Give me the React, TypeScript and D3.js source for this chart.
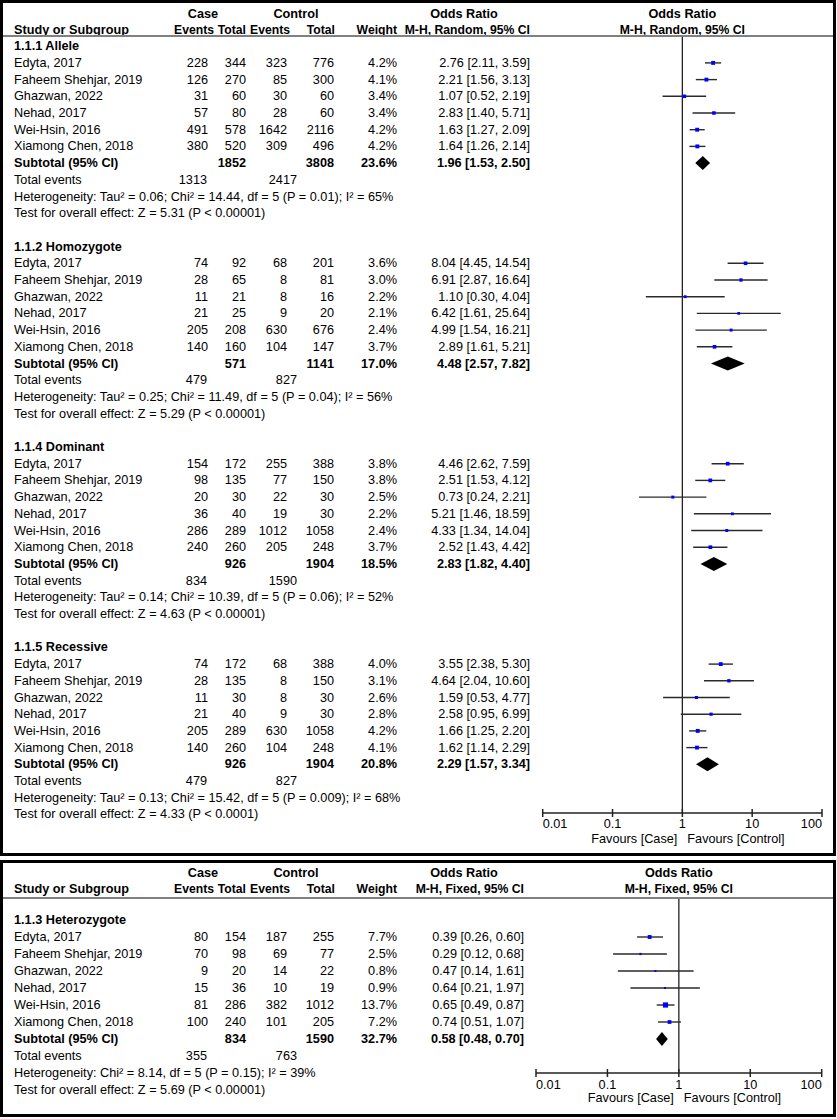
import React from "react";
import * as d3 from "d3";

// ---------- data ----------
const studyNames = [
  "Edyta, 2017",
  "Faheem Shehjar, 2019",
  "Ghazwan, 2022",
  "Nehad, 2017",
  "Wei-Hsin, 2016",
  "Xiamong Chen, 2018",
];

// [caseEvents, caseTotal, ctrlEvents, ctrlTotal, weight%, OR, lo, hi]
const alleleRows = [
  [228, 344, 323, 776, 4.2, 2.76, 2.11, 3.59],
  [126, 270, 85, 300, 4.1, 2.21, 1.56, 3.13],
  [31, 60, 30, 60, 3.4, 1.07, 0.52, 2.19],
  [57, 80, 28, 60, 3.4, 2.83, 1.4, 5.71],
  [491, 578, 1642, 2116, 4.2, 1.63, 1.27, 2.09],
  [380, 520, 309, 496, 4.2, 1.64, 1.26, 2.14],
];
const homozygoteRows = [
  [74, 92, 68, 201, 3.6, 8.04, 4.45, 14.54],
  [28, 65, 8, 81, 3.0, 6.91, 2.87, 16.64],
  [11, 21, 8, 16, 2.2, 1.1, 0.3, 4.04],
  [21, 25, 9, 20, 2.1, 6.42, 1.61, 25.64],
  [205, 208, 630, 676, 2.4, 4.99, 1.54, 16.21],
  [140, 160, 104, 147, 3.7, 2.89, 1.61, 5.21],
];
const dominantRows = [
  [154, 172, 255, 388, 3.8, 4.46, 2.62, 7.59],
  [98, 135, 77, 150, 3.8, 2.51, 1.53, 4.12],
  [20, 30, 22, 30, 2.5, 0.73, 0.24, 2.21],
  [36, 40, 19, 30, 2.2, 5.21, 1.46, 18.59],
  [286, 289, 1012, 1058, 2.4, 4.33, 1.34, 14.04],
  [240, 260, 205, 248, 3.7, 2.52, 1.43, 4.42],
];
const recessiveRows = [
  [74, 172, 68, 388, 4.0, 3.55, 2.38, 5.3],
  [28, 135, 8, 150, 3.1, 4.64, 2.04, 10.6],
  [11, 30, 8, 30, 2.6, 1.59, 0.53, 4.77],
  [21, 40, 9, 30, 2.8, 2.58, 0.95, 6.99],
  [205, 289, 630, 1058, 4.2, 1.66, 1.25, 2.2],
  [140, 260, 104, 248, 4.1, 1.62, 1.14, 2.29],
];
const heterozygoteRows = [
  [80, 154, 187, 255, 7.7, 0.39, 0.26, 0.6],
  [70, 98, 69, 77, 2.5, 0.29, 0.12, 0.68],
  [9, 20, 14, 22, 0.8, 0.47, 0.14, 1.61],
  [15, 36, 10, 19, 0.9, 0.64, 0.21, 1.97],
  [81, 286, 382, 1012, 13.7, 0.65, 0.49, 0.87],
  [100, 240, 101, 205, 7.2, 0.74, 0.51, 1.07],
];

// [caseTotal, ctrlTotal, weight%, OR, lo, hi]
const alleleSubtotal = [1852, 3808, 23.6, 1.96, 1.53, 2.5];
const homozygoteSubtotal = [571, 1141, 17.0, 4.48, 2.57, 7.82];
const dominantSubtotal = [926, 1904, 18.5, 2.83, 1.82, 4.4];
const recessiveSubtotal = [926, 1904, 20.8, 2.29, 1.57, 3.34];
const heterozygoteSubtotal = [834, 1590, 32.7, 0.58, 0.48, 0.7];

// [caseEvents, ctrlEvents]
const alleleTotalEvents = [1313, 2417];
const homozygoteTotalEvents = [479, 827];
const dominantTotalEvents = [834, 1590];
const recessiveTotalEvents = [479, 827];
const heterozygoteTotalEvents = [355, 763];

const groupTitles = ["1.1.1 Allele", "1.1.2 Homozygote", "1.1.4 Dominant", "1.1.5 Recessive"];
const heterogeneityTexts = [
  "Heterogeneity: Tau\u00b2 = 0.06; Chi\u00b2 = 14.44, df = 5 (P = 0.01); I\u00b2 = 65%",
  "Heterogeneity: Tau\u00b2 = 0.25; Chi\u00b2 = 11.49, df = 5 (P = 0.04); I\u00b2 = 56%",
  "Heterogeneity: Tau\u00b2 = 0.14; Chi\u00b2 = 10.39, df = 5 (P = 0.06); I\u00b2 = 52%",
  "Heterogeneity: Tau\u00b2 = 0.13; Chi\u00b2 = 15.42, df = 5 (P = 0.009); I\u00b2 = 68%",
];
const overallTexts = [
  "Test for overall effect: Z = 5.31 (P < 0.00001)",
  "Test for overall effect: Z = 5.29 (P < 0.00001)",
  "Test for overall effect: Z = 4.63 (P < 0.00001)",
  "Test for overall effect: Z = 4.33 (P < 0.0001)",
];
const heteroTitle = "1.1.3 Heterozygote";
const heteroHeterogeneity = "Heterogeneity: Chi\u00b2 = 8.14, df = 5 (P = 0.15); I\u00b2 = 39%";
const heteroOverall = "Test for overall effect: Z = 5.69 (P < 0.00001)";

const tickValues = [0.01, 0.1, 1, 10, 100];
const tickLabels = ["0.01", "0.1", "1", "10", "100"];

// ---------- rendering ----------
const FONT = "Arial, 'Liberation Sans', sans-serif";
const FS = 12.7;
const HFS = 12.2;

type Grp = {
  title: string;
  rows: number[][];
  subtotal: number[];
  totalEvents: number[];
  het: string;
  overall: string;
};

type PanelCfg = {
  top: number;
  bottom: number;
  hy1: number;
  hy2: number;
  lineY: number;
  firstY: number;
  rowH: number;
  groupStride: number;
  groups: Grp[];
  xr: [number, number];
  orRight: number;
  method: string;
  axisY: number;
  tickLabY: number;
  favY: number;
  sqK: number;
};

function fmt2(v: number) {
  return v.toFixed(2);
}

function Panel({ cfg }: { cfg: PanelCfg }) {
  const x = d3.scaleLog().domain([0.01, 100]).range(cfg.xr);
  const xc = (v: number) => x(Math.max(0.01, Math.min(100, v)));
  const ref = x(1);
  const yRow = d3
    .scaleLinear()
    .domain([0, 1])
    .range([cfg.firstY, cfg.firstY + cfg.rowH]);
  const colRight = { caseE: 208, caseT: 246, ctrlE: 287, ctrlT: 334, w: 397 };
  const txt = (
    key: string,
    s: string | number,
    xx: number,
    yy: number,
    anchor: "start" | "middle" | "end" = "start",
    bold = false,
    size?: number
  ) => (
    <text
      key={key}
      x={xx}
      y={yy}
      textAnchor={anchor}
      dominantBaseline="central"
      fontWeight={bold ? "bold" : "normal"}
      fontSize={size}
    >
      {s}
    </text>
  );
  const els: React.ReactNode[] = [];
  cfg.groups.forEach((g, gi) => {
    const base = gi * cfg.groupStride;
    els.push(txt(`gt${gi}`, g.title, 14, yRow(base), "start", true));
    g.rows.forEach((r, i) => {
      const yy = yRow(base + 1 + i);
      els.push(txt(`n${gi}-${i}`, studyNames[i], 14, yy));
      els.push(txt(`a${gi}-${i}`, r[0], colRight.caseE, yy, "end"));
      els.push(txt(`b${gi}-${i}`, r[1], colRight.caseT, yy, "end"));
      els.push(txt(`c${gi}-${i}`, r[2], colRight.ctrlE, yy, "end"));
      els.push(txt(`d${gi}-${i}`, r[3], colRight.ctrlT, yy, "end"));
      els.push(txt(`w${gi}-${i}`, r[4].toFixed(1) + "%", colRight.w, yy, "end"));
      els.push(
        txt(`o${gi}-${i}`, `${fmt2(r[5])} [${fmt2(r[6])}, ${fmt2(r[7])}]`, cfg.orRight, yy, "end")
      );
      const s = Math.max(2, cfg.sqK * Math.sqrt(r[4]));
      els.push(
        <line
          key={`ci${gi}-${i}`}
          x1={xc(r[6])}
          x2={xc(r[7])}
          y1={yy}
          y2={yy}
          stroke="#2a2a2a"
          strokeWidth={1.4}
        />
      );
      els.push(
        <rect
          key={`sq${gi}-${i}`}
          x={x(r[5]) - s / 2}
          y={yy - s / 2}
          width={s}
          height={s}
          fill="#0000ff"
        />
      );
    });
    const ys = yRow(base + 7);
    const st = g.subtotal;
    els.push(txt(`st${gi}`, "Subtotal (95% CI)", 14, ys, "start", true));
    els.push(txt(`st1${gi}`, st[0], colRight.caseT, ys, "end", true));
    els.push(txt(`st2${gi}`, st[1], colRight.ctrlT, ys, "end", true));
    els.push(txt(`st3${gi}`, st[2].toFixed(1) + "%", colRight.w, ys, "end", true));
    els.push(
      txt(`st4${gi}`, `${fmt2(st[3])} [${fmt2(st[4])}, ${fmt2(st[5])}]`, cfg.orRight, ys, "end", true)
    );
    const dh = 7;
    els.push(
      <path
        key={`dm${gi}`}
        d={`M${x(st[4])},${ys} L${x(st[3])},${ys - dh} L${x(st[5])},${ys} L${x(st[3])},${ys + dh} Z`}
        fill="#000"
      />
    );
    const yt = yRow(base + 8);
    els.push(txt(`te${gi}`, "Total events", 14, yt));
    els.push(txt(`te1${gi}`, g.totalEvents[0], 207, yt, "end"));
    els.push(txt(`te2${gi}`, g.totalEvents[1], 297, yt, "end"));
    els.push(txt(`he${gi}`, g.het, 14, yRow(base + 9)));
    els.push(txt(`ov${gi}`, g.overall, 14, yRow(base + 10)));
  });

  return (
    <g fontFamily={FONT} fontSize={FS} fill="#000">
      <rect
        x={1.5}
        y={cfg.top + 1.5}
        width={833}
        height={cfg.bottom - cfg.top - 3}
        fill="#fff"
        stroke="#000"
        strokeWidth={3}
      />
      {/* header */}
      {txt("h1", "Case", 203, cfg.hy1, "middle", true)}
      {txt("h2", "Control", 296, cfg.hy1, "middle", true)}
      {txt("h3", "Odds Ratio", 464, cfg.hy1, "middle", true)}
      {txt("h4", "Odds Ratio", ref, cfg.hy1, "middle", true)}
      {txt("h5", "Study or Subgroup", 14, cfg.hy2, "start", true)}
      {txt("h6", "Events", 214, cfg.hy2, "end", true, HFS)}
      {txt("h7", "Total", 246, cfg.hy2, "end", true, HFS)}
      {txt("h8", "Events", 290, cfg.hy2, "end", true, HFS)}
      {txt("h9", "Total", 335, cfg.hy2, "end", true, HFS)}
      {txt("h10", "Weight", 397, cfg.hy2, "end", true, HFS)}
      {txt("h11", cfg.method, cfg.orRight, cfg.hy2, "end", true, HFS)}
      {txt("h12", cfg.method, ref, cfg.hy2, "middle", true, HFS)}
      <line x1={3} x2={833} y1={cfg.lineY} y2={cfg.lineY} stroke="#808080" strokeWidth={2} />
      {/* reference line */}
      <line x1={ref} x2={ref} y1={cfg.lineY + 1} y2={cfg.axisY} stroke="#222" strokeWidth={1.3} />
      {els}
      {/* axis */}
      <line x1={cfg.xr[0]} x2={cfg.xr[1]} y1={cfg.axisY} y2={cfg.axisY} stroke="#222" strokeWidth={1.5} />
      {tickValues.map((t, i) => (
        <line
          key={`tk${i}`}
          x1={x(t)}
          x2={x(t)}
          y1={cfg.axisY - 4}
          y2={cfg.axisY + 4}
          stroke="#222"
          strokeWidth={1.5}
        />
      ))}
      {tickValues.map((t, i) =>
        txt(
          `tl${i}`,
          tickLabels[i],
          x(t),
          cfg.tickLabY,
          i === 0 ? "start" : i === tickValues.length - 1 ? "end" : "middle"
        )
      )}
      {txt("fc", "Favours [Case]", ref - 5, cfg.favY, "end")}
      {txt("fk", "Favours [Control]", ref + 5, cfg.favY, "start")}
    </g>
  );
}

export default function App() {
  const topGroups: Grp[] = [
    { title: groupTitles[0], rows: alleleRows, subtotal: alleleSubtotal, totalEvents: alleleTotalEvents, het: heterogeneityTexts[0], overall: overallTexts[0] },
    { title: groupTitles[1], rows: homozygoteRows, subtotal: homozygoteSubtotal, totalEvents: homozygoteTotalEvents, het: heterogeneityTexts[1], overall: overallTexts[1] },
    { title: groupTitles[2], rows: dominantRows, subtotal: dominantSubtotal, totalEvents: dominantTotalEvents, het: heterogeneityTexts[2], overall: overallTexts[2] },
    { title: groupTitles[3], rows: recessiveRows, subtotal: recessiveSubtotal, totalEvents: recessiveTotalEvents, het: heterogeneityTexts[3], overall: overallTexts[3] },
  ];
  const bottomGroups: Grp[] = [
    { title: heteroTitle, rows: heterozygoteRows, subtotal: heterozygoteSubtotal, totalEvents: heterozygoteTotalEvents, het: heteroHeterogeneity, overall: heteroOverall },
  ];
  const topCfg: PanelCfg = {
    top: 0,
    bottom: 856,
    hy1: 14,
    hy2: 30,
    lineY: 36,
    firstY: 46.2,
    rowH: 16.7,
    groupStride: 12,
    groups: topGroups,
    xr: [542.7, 822],
    orRight: 530,
    method: "M-H, Random, 95% CI",
    axisY: 813,
    tickLabY: 824,
    favY: 839,
    sqK: 1.9,
  };
  const botCfg: PanelCfg = {
    top: 860,
    bottom: 1117,
    hy1: 873,
    hy2: 889,
    lineY: 898,
    firstY: 920,
    rowH: 17,
    groupStride: 12,
    groups: bottomGroups,
    xr: [536, 821.7],
    orRight: 524,
    method: "M-H, Fixed, 95% CI",
    axisY: 1073,
    tickLabY: 1085,
    favY: 1098,
    sqK: 1.4,
  };
  return (
    <svg
      width={837}
      height={1119}
      style={{ position: "absolute", left: 0, top: 0, background: "#fff" }}
    >
      <rect x={0} y={0} width={837} height={1119} fill="#fff" />
      <Panel cfg={topCfg} />
      <Panel cfg={botCfg} />
    </svg>
  );
}
